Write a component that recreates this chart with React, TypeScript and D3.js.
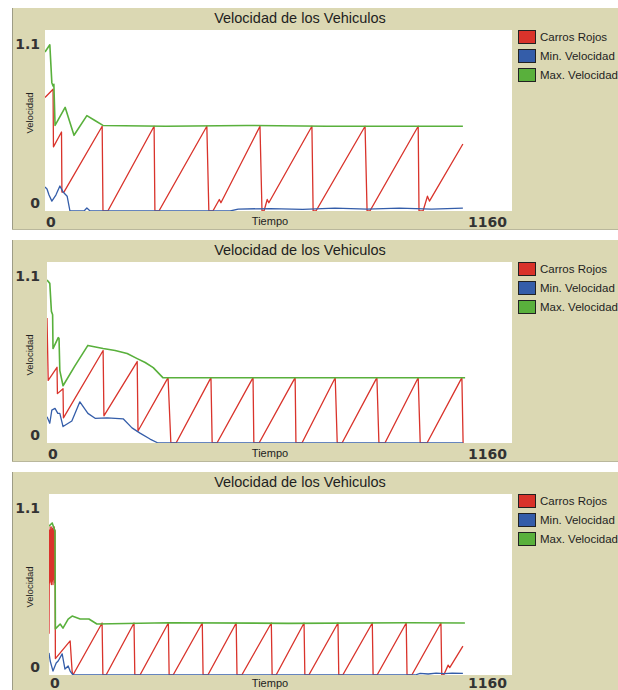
import React from "react";
import * as d3 from "d3";

// ---- Data ----
const chartTitle = "Velocidad de los Vehiculos";
const seriesNames = ["Carros Rojos", "Min. Velocidad", "Max. Velocidad"];
const seriesColors = ["#d9332b", "#345da9", "#59b03c"];
const xDomain = [0, 1160];
const yDomain = [0, 1.1];
const xTickLabels = ["0", "1160"];
const yTickLabels = ["0", "1.1"];
const xAxisName = "Tiempo";
const yAxisName = "Velocidad";

// Run 1
const red1: [number, number][] = [[0,0.69],[20,0.74],[21,0.39],[41,0.48],[42,0.115],[47,0.115],[142,0.515],[144,0],[156,0],[271,0.515],[273,0],[283,0],[402,0.515],[407,0],[417,0],[433,0.07],[437,0.05],[534,0.515],[539,0],[544,0],[552,0.07],[556,0.05],[663,0.515],[666,0],[673,0],[795,0.515],[800,0],[807,0],[927,0.515],[929,0],[939,0],[950,0.09],[955,0.06],[1038,0.407]];
const blue1: [number, number][] = [[0,0.146],[5,0.134],[10,0.097],[17,0.06],[27,0.097],[37,0.152],[45,0.115],[55,0.09],[62,0],[97,0],[104,0.018],[112,0],[460,0],[480,0.012],[560,0.015],[640,0.01],[720,0.018],[800,0.012],[880,0.018],[960,0.012],[1038,0.018]];
const green1: [number, number][] = [[0,0.966],[12,1.01],[17,0.78],[20,0.76],[22,0.77],[25,0.52],[50,0.63],[72,0.46],[104,0.58],[124,0.55],[144,0.52],[300,0.515],[500,0.52],[700,0.515],[900,0.515],[1038,0.515]];

// Run 2
const red2: [number, number][] = [[0,0.76],[3,0.38],[25,0.46],[26,0.3],[40,0.33],[41,0.153],[140,0.562],[142,0.165],[225,0.495],[227,0.073],[302,0.397],[309,0],[322,0],[409,0.397],[412,0],[424,0],[514,0.397],[516,0],[529,0],[619,0.397],[621,0],[636,0],[719,0.397],[724,0],[736,0],[823,0.397],[828,0],[843,0],[926,0.397],[931,0],[948,0],[1035,0.397],[1038,0]];
const blue2: [number, number][] = [[0,0.16],[7,0.12],[12,0.2],[20,0.21],[27,0.18],[32,0.18],[40,0.1],[62,0.134],[82,0.25],[102,0.18],[120,0.15],[150,0.153],[190,0.147],[212,0.092],[232,0.06],[257,0.024],[277,0],[1038,0]];
const green2: [number, number][] = [[0,0.99],[7,0.97],[11,0.8],[14,0.78],[15,0.574],[28,0.64],[30,0.636],[32,0.44],[40,0.348],[70,0.47],[102,0.593],[140,0.574],[170,0.562],[200,0.544],[225,0.513],[245,0.489],[265,0.458],[289,0.397],[1043,0.397]];

// Run 3
const red3: [number, number][] = [[0,0.25],[1,0.88],[2,0.56],[3,0.9],[4,0.57],[5,0.88],[6,0.55],[7,0.9],[8,0.57],[9,0.89],[10,0.55],[11,0.88],[12,0.58],[13,0.9],[14,0.56],[15,0.88],[16,0.1],[53,0.207],[58,0.02],[60,0],[133,0.316],[135,0],[143,0],[213,0.316],[215,0],[228,0],[299,0.316],[301,0],[311,0],[384,0.316],[386,0],[398,0],[469,0.316],[471,0],[483,0],[557,0.316],[559,0],[569,0],[639,0.316],[641,0],[651,0],[724,0.316],[726,0],[736,0],[810,0.316],[812,0],[822,0],[895,0.316],[897,0],[909,0],[982,0.316],[984,0],[989,0],[1000,0.06],[1004,0.045],[1037,0.176]];
const blue3: [number, number][] = [[0,0.134],[3,0.085],[10,0.024],[18,0.073],[23,0.085],[33,0.128],[40,0.036],[48,0.055],[53,0.024],[60,0],[917,0],[930,0.01],[950,0.006],[970,0.012],[990,0.008],[1010,0.012],[1037,0.01]];
const green3: [number, number][] = [[0,0.905],[8,0.924],[15,0.875],[16,0.28],[28,0.31],[35,0.285],[48,0.34],[58,0.358],[78,0.34],[100,0.34],[120,0.31],[300,0.318],[600,0.314],[900,0.318],[1042,0.316]];

const runs = [
  [red1, blue1, green1],
  [red2, blue2, green2],
  [red3, blue3, green3],
];

// ---- Layout ----
const W = 618;
const H = 690;
const panelTops = [8, 240, 472];
const plotLefts = [45, 47, 49];
const yNameOffsets = [105, 115, 115];
const frameX = 12;
const frameH = 222;
const plotRight = 512;

function Panel({ idx }: { idx: number }) {
  const top = panelTops[idx];
  const left = plotLefts[idx];
  const plotTop = top + 22;
  const plotBottom = top + 203;
  const x = d3.scaleLinear().domain(xDomain).range([left, plotRight]);
  const y = d3.scaleLinear().domain(yDomain).range([plotBottom, plotTop]);
  const line = d3
    .line<[number, number]>()
    .x((d) => x(d[0]))
    .y((d) => y(d[1]));
  const data = runs[idx];
  const clipId = `clip${idx}`;
  const labelFont = "DejaVu Sans, sans-serif";
  const textFont = "Liberation Sans, Arial, sans-serif";
  const xLabelBase = Math.min(top + 219, H - 2);
  const xNameBase = Math.min(top + 217, H - 3);
  return (
    <g>
      <rect x={frameX} y={top} width={W - frameX} height={frameH} fill="#dbd8b3" />
      <line x1={frameX + 0.5} x2={frameX + 0.5} y1={top} y2={top + frameH} stroke="#9d9c86" />
      <line x1={frameX} x2={W} y1={top + frameH - 0.5} y2={top + frameH - 0.5} stroke="#b9b79c" />
      <rect x={left} y={plotTop} width={plotRight - left} height={plotBottom - plotTop} fill="#ffffff" />
      <defs>
        <clipPath id={clipId}>
          <rect x={left} y={plotTop - 2} width={plotRight - left} height={plotBottom - plotTop + 2} />
        </clipPath>
      </defs>
      <g clipPath={`url(#${clipId})`}>
        {data.map((s, i) => (
          <path
            key={i}
            d={line(s) || ""}
            fill="none"
            stroke={seriesColors[i]}
            strokeWidth={i === 2 ? 1.6 : 1.3}
            strokeLinejoin="round"
          />
        ))}
      </g>
      <text x={300} y={top + 15} textAnchor="middle" fontFamily={textFont} fontSize={14.5} fill="#1e1e1e">
        {chartTitle}
      </text>
      <text x={40} y={y(yDomain[1]) + 19} textAnchor="end" fontFamily={labelFont} fontWeight="bold" fontSize={14} fill="#333">
        {yTickLabels[1]}
      </text>
      <text x={40} y={y(yDomain[0]) - 3} textAnchor="end" fontFamily={labelFont} fontWeight="bold" fontSize={14} fill="#333">
        {yTickLabels[0]}
      </text>
      <text x={x(xDomain[0]) + 1} y={xLabelBase} textAnchor="start" fontFamily={labelFont} fontWeight="bold" fontSize={14} fill="#333">
        {xTickLabels[0]}
      </text>
      <text x={507} y={xLabelBase} textAnchor="end" fontFamily={labelFont} fontWeight="bold" fontSize={14} fill="#333">
        {xTickLabels[1]}
      </text>
      <text x={270} y={xNameBase} textAnchor="middle" fontFamily={textFont} fontSize={11} fill="#222">
        {xAxisName}
      </text>
      <text
        transform={`translate(33, ${top + yNameOffsets[idx]}) rotate(-90)`}
        textAnchor="middle"
        fontFamily={textFont}
        fontSize={9.5}
        fill="#222"
      >
        {yAxisName}
      </text>
      {seriesNames.map((name, i) => {
        const sy = top + 22 + i * 19;
        return (
          <g key={name}>
            <rect x={518.5} y={sy + 0.5} width={17} height={13} fill={seriesColors[i]} stroke="#222" strokeWidth={1} />
            <text x={540} y={sy + 10.5} fontFamily={textFont} fontSize={11.5} fill="#1e1e1e">
              {name}
            </text>
          </g>
        );
      })}
    </g>
  );
}

export default function App() {
  return (
    <svg
      width={W}
      height={H}
      viewBox={`0 0 ${W} ${H}`}
      style={{ position: "absolute", left: 0, top: 0, background: "#ffffff" }}
    >
      <rect x={0} y={0} width={W} height={H} fill="#ffffff" />
      {panelTops.map((_, i) => (
        <Panel key={i} idx={i} />
      ))}
    </svg>
  );
}
